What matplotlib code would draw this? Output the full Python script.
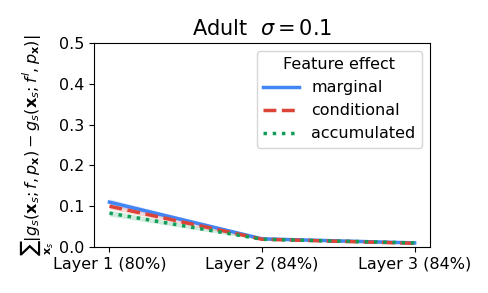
import numpy as np
import matplotlib
matplotlib.use("Agg")
import matplotlib.pyplot as plt

# layers and accuracies
layers = ["Layer 1 (80%)", "Layer 2 (84%)", "Layer 3 (84%)"]

# mean and spread per feature effect type
marginal = [0.110, 0.020, 0.010]
marginal_sd = [0.008, 0.002, 0.002]
conditional = [0.100, 0.019, 0.009]
conditional_sd = [0.007, 0.002, 0.002]
accumulated = [0.083, 0.019, 0.010]
accumulated_sd = [0.007, 0.002, 0.002]

series = [
    ("marginal", marginal, marginal_sd, "#4285F4", "-"),
    ("conditional", conditional, conditional_sd, "#DB4437", "--"),
    ("accumulated", accumulated, accumulated_sd, "#0F9D58", ":"),
]

fs = 11.5
fig, ax = plt.subplots(figsize=(4.88, 2.93), dpi=100)
x = np.arange(len(layers))

for name, vals, sd, col, ls in series:
    vals = np.array(vals)
    sd = np.array(sd)
    ax.fill_between(x, vals - sd, vals + sd, color=col, alpha=0.2, linewidth=0)
    ax.plot(x, vals, color=col, linestyle=ls, linewidth=2.5, label=name)

ax.set_xticks(x)
ax.set_xticklabels(layers, fontsize=fs)
ax.set_ylim(0, 0.5)
ax.set_yticks([0.0, 0.1, 0.2, 0.3, 0.4, 0.5])
ax.tick_params(axis="y", labelsize=fs)
ax.set_title(r"Adult  $\sigma = 0.1$", fontsize=15)
ax.set_ylabel(r"$\sum_{\mathbf{x}_s}|g_s(\mathbf{x}_s;f,p_\mathbf{x}) - g_s(\mathbf{x}_s;f^l,p_\mathbf{x})|$",
              fontsize=fs, labelpad=2)
ax.legend(title="Feature effect", fontsize=fs, title_fontsize=fs, loc="upper right",
          handlelength=2.2)

fig.subplots_adjust(left=0.193, right=0.881, top=0.853, bottom=0.157)
fig.savefig("out.png")
